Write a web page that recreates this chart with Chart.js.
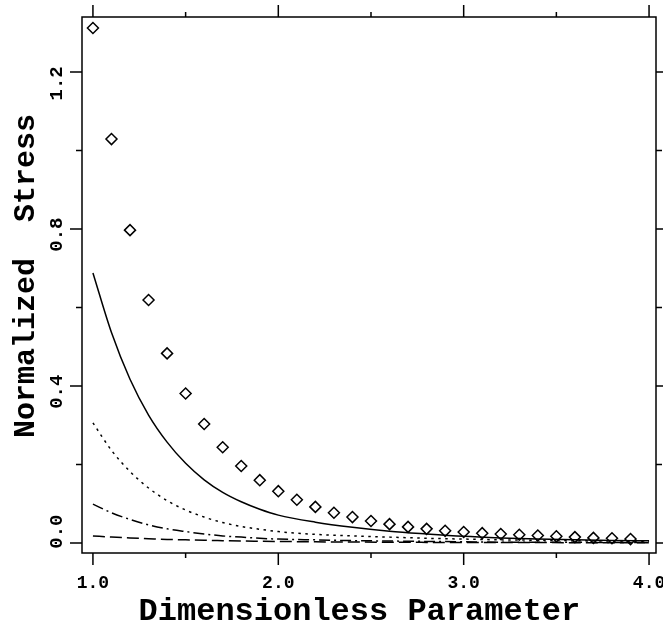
<!DOCTYPE html>
<html>
<head>
<meta charset="utf-8">
<script src="https://cdn.jsdelivr.net/npm/chart.js@4"></script>
<style>
  body { margin: 0; background: #fff; }
  #wrap { width: 663px; height: 629px; position: relative; }
</style>
</head>
<body>
<div id="wrap"><canvas id="stressChart"></canvas></div>
<script>
// x positions of the curves
const xCurve = [1.0, 1.1, 1.2, 1.3, 1.4, 1.5, 1.6, 1.7, 1.8, 1.9, 2.0, 2.2, 2.4, 2.6, 2.8, 3.0, 3.2, 3.4, 3.6, 3.8, 4.0];
const solidVals   = [0.688, 0.536, 0.417, 0.326, 0.257, 0.203, 0.161, 0.129, 0.105, 0.086, 0.071, 0.053, 0.040, 0.030, 0.023, 0.017, 0.013, 0.010, 0.008, 0.0065, 0.0055];
const dottedVals  = [0.306, 0.236, 0.182, 0.140, 0.108, 0.084, 0.066, 0.052, 0.042, 0.035, 0.029, 0.022, 0.018, 0.015, 0.012, 0.010, 0.008, 0.007, 0.006, 0.005, 0.004];
const dashDotVals = [0.099, 0.077, 0.060, 0.046, 0.036, 0.029, 0.023, 0.018, 0.015, 0.012, 0.010, 0.008, 0.006, 0.005, 0.004, 0.003, 0.002, 0.002, 0.002, 0.001, 0.001];
const dashedVals  = [0.018, 0.015, 0.013, 0.011, 0.009, 0.008, 0.007, 0.006, 0.005, 0.0045, 0.004, 0.003, 0.0025, 0.002, 0.0015, 0.001, 0.001, 0.001, 0.0008, 0.0006, 0.0005];

// diamond markers
const xMarker = [1.0, 1.1, 1.2, 1.3, 1.4, 1.5, 1.6, 1.7, 1.8, 1.9, 2.0, 2.1, 2.2, 2.3, 2.4, 2.5, 2.6, 2.7, 2.8, 2.9, 3.0, 3.1, 3.2, 3.3, 3.4, 3.5, 3.6, 3.7, 3.8, 3.9];
const markerVals = [1.312, 1.029, 0.797, 0.619, 0.483, 0.381, 0.303, 0.244, 0.196, 0.160, 0.132, 0.110, 0.092, 0.077, 0.066, 0.056, 0.048, 0.041, 0.036, 0.031, 0.028, 0.025, 0.023, 0.021, 0.019, 0.017, 0.015, 0.013, 0.012, 0.010];

// ticks (y labels are padded with spaces, which nudges them along the axis like the original)
const xMajorTicks = [1.0, 2.0, 3.0, 4.0];
const xMinorTicks = [1.5, 2.5, 3.5];
const yMajorTicks = [0.0, 0.4, 0.8, 1.2];
const yTickLabels = ['  0.0', '0.4 ', '0.8 ', '1.2  '];
const yMinorTicks = [0.2, 0.6, 1.0];

const monoBold = '"Liberation Mono", "DejaVu Sans Mono", monospace';

function pairs(xs, ys) {
  return xs.map((x, i) => ({ x: x, y: ys[i] }));
}

function curve(vals, dash) {
  return {
    data: pairs(xCurve, vals),
    showLine: true,
    borderColor: '#000',
    borderWidth: 1.5,
    borderDash: dash,
    pointRadius: 0,
    cubicInterpolationMode: 'monotone',
  };
}

// box and tick marks on all four sides
const frame = {
  id: 'frame',
  afterDraw(chart) {
    const { ctx, chartArea: a, scales: { x, y } } = chart;
    ctx.save();
    ctx.strokeStyle = '#000';
    ctx.lineWidth = 1.5;
    ctx.strokeRect(a.left, a.top, a.right - a.left, a.bottom - a.top);
    ctx.beginPath();
    const xt = (list, len) => list.forEach(v => {
      const px = x.getPixelForValue(v);
      ctx.moveTo(px, a.bottom); ctx.lineTo(px, a.bottom + len);
      ctx.moveTo(px, a.top); ctx.lineTo(px, a.top - len);
    });
    const yt = (list, len) => list.forEach(v => {
      const py = y.getPixelForValue(v);
      ctx.moveTo(a.left, py); ctx.lineTo(a.left - len, py);
      ctx.moveTo(a.right, py); ctx.lineTo(a.right + len, py);
    });
    xt(xMajorTicks, 12); xt(xMinorTicks, 5);
    yt(yMajorTicks, 12); yt(yMinorTicks, 6);
    ctx.stroke();
    ctx.restore();
  }
};

const chart = new Chart(document.getElementById('stressChart'), {
  type: 'scatter',
  data: {
    datasets: [
      curve(solidVals, []),
      curve(dottedVals, [2.5, 4.5]),
      curve(dashDotVals, [11, 4, 2, 4]),
      curve(dashedVals, [12, 5]),
      {
        data: pairs(xMarker, markerVals),
        pointStyle: 'rectRot',
        pointRadius: 5.5,
        pointBorderWidth: 1.5,
        pointBorderColor: '#000',
        pointBackgroundColor: '#fff',
      }
    ]
  },
  options: {
    responsive: true,
    maintainAspectRatio: false,
    animation: false,
    layout: { padding: { left: 0, right: 3, top: 17, bottom: 0 } },
    plugins: { legend: { display: false }, tooltip: { enabled: false } },
    scales: {
      x: {
        min: 0.941,
        max: 4.0375,
        afterBuildTicks: s => { s.ticks = xMajorTicks.map(v => ({ value: v })); },
        afterFit: s => { s.height = 76; s.paddingLeft = 0; s.paddingRight = 0; },
        grid: { display: false, drawTicks: false },
        border: { display: false },
        ticks: {
          padding: 20,
          color: '#000',
          maxRotation: 0,
          font: { family: monoBold, size: 18, weight: 'bold' },
          callback: v => v.toFixed(1),
        },
        title: {
          display: true,
          text: 'Dimensionless Parameter ',
          color: '#000',
          font: { family: monoBold, size: 32, weight: 'bold', lineHeight: 1 },
          padding: { top: 0, bottom: 1 },
        }
      },
      y: {
        min: -0.0255,
        max: 1.34,
        afterBuildTicks: s => { s.ticks = yMajorTicks.map(v => ({ value: v })); },
        afterFit: s => { s.width = 82; s.paddingTop = 0; s.paddingBottom = 0; },
        grid: { display: false, drawTicks: false },
        border: { display: false },
        ticks: {
          padding: -4,
          color: '#000',
          minRotation: 90,
          maxRotation: 90,
          crossAlign: 'center',
          font: { family: monoBold, size: 19, weight: 'bold' },
          callback: (v, i) => yTickLabels[i],
        },
        title: {
          display: true,
          text: ' Normalized  Stress',
          color: '#000',
          font: { family: monoBold, size: 30, weight: 'bold', lineHeight: 1 },
          padding: { top: 11, bottom: 0 },
        }
      }
    }
  },
  plugins: [frame]
});
</script>
</body>
</html>
